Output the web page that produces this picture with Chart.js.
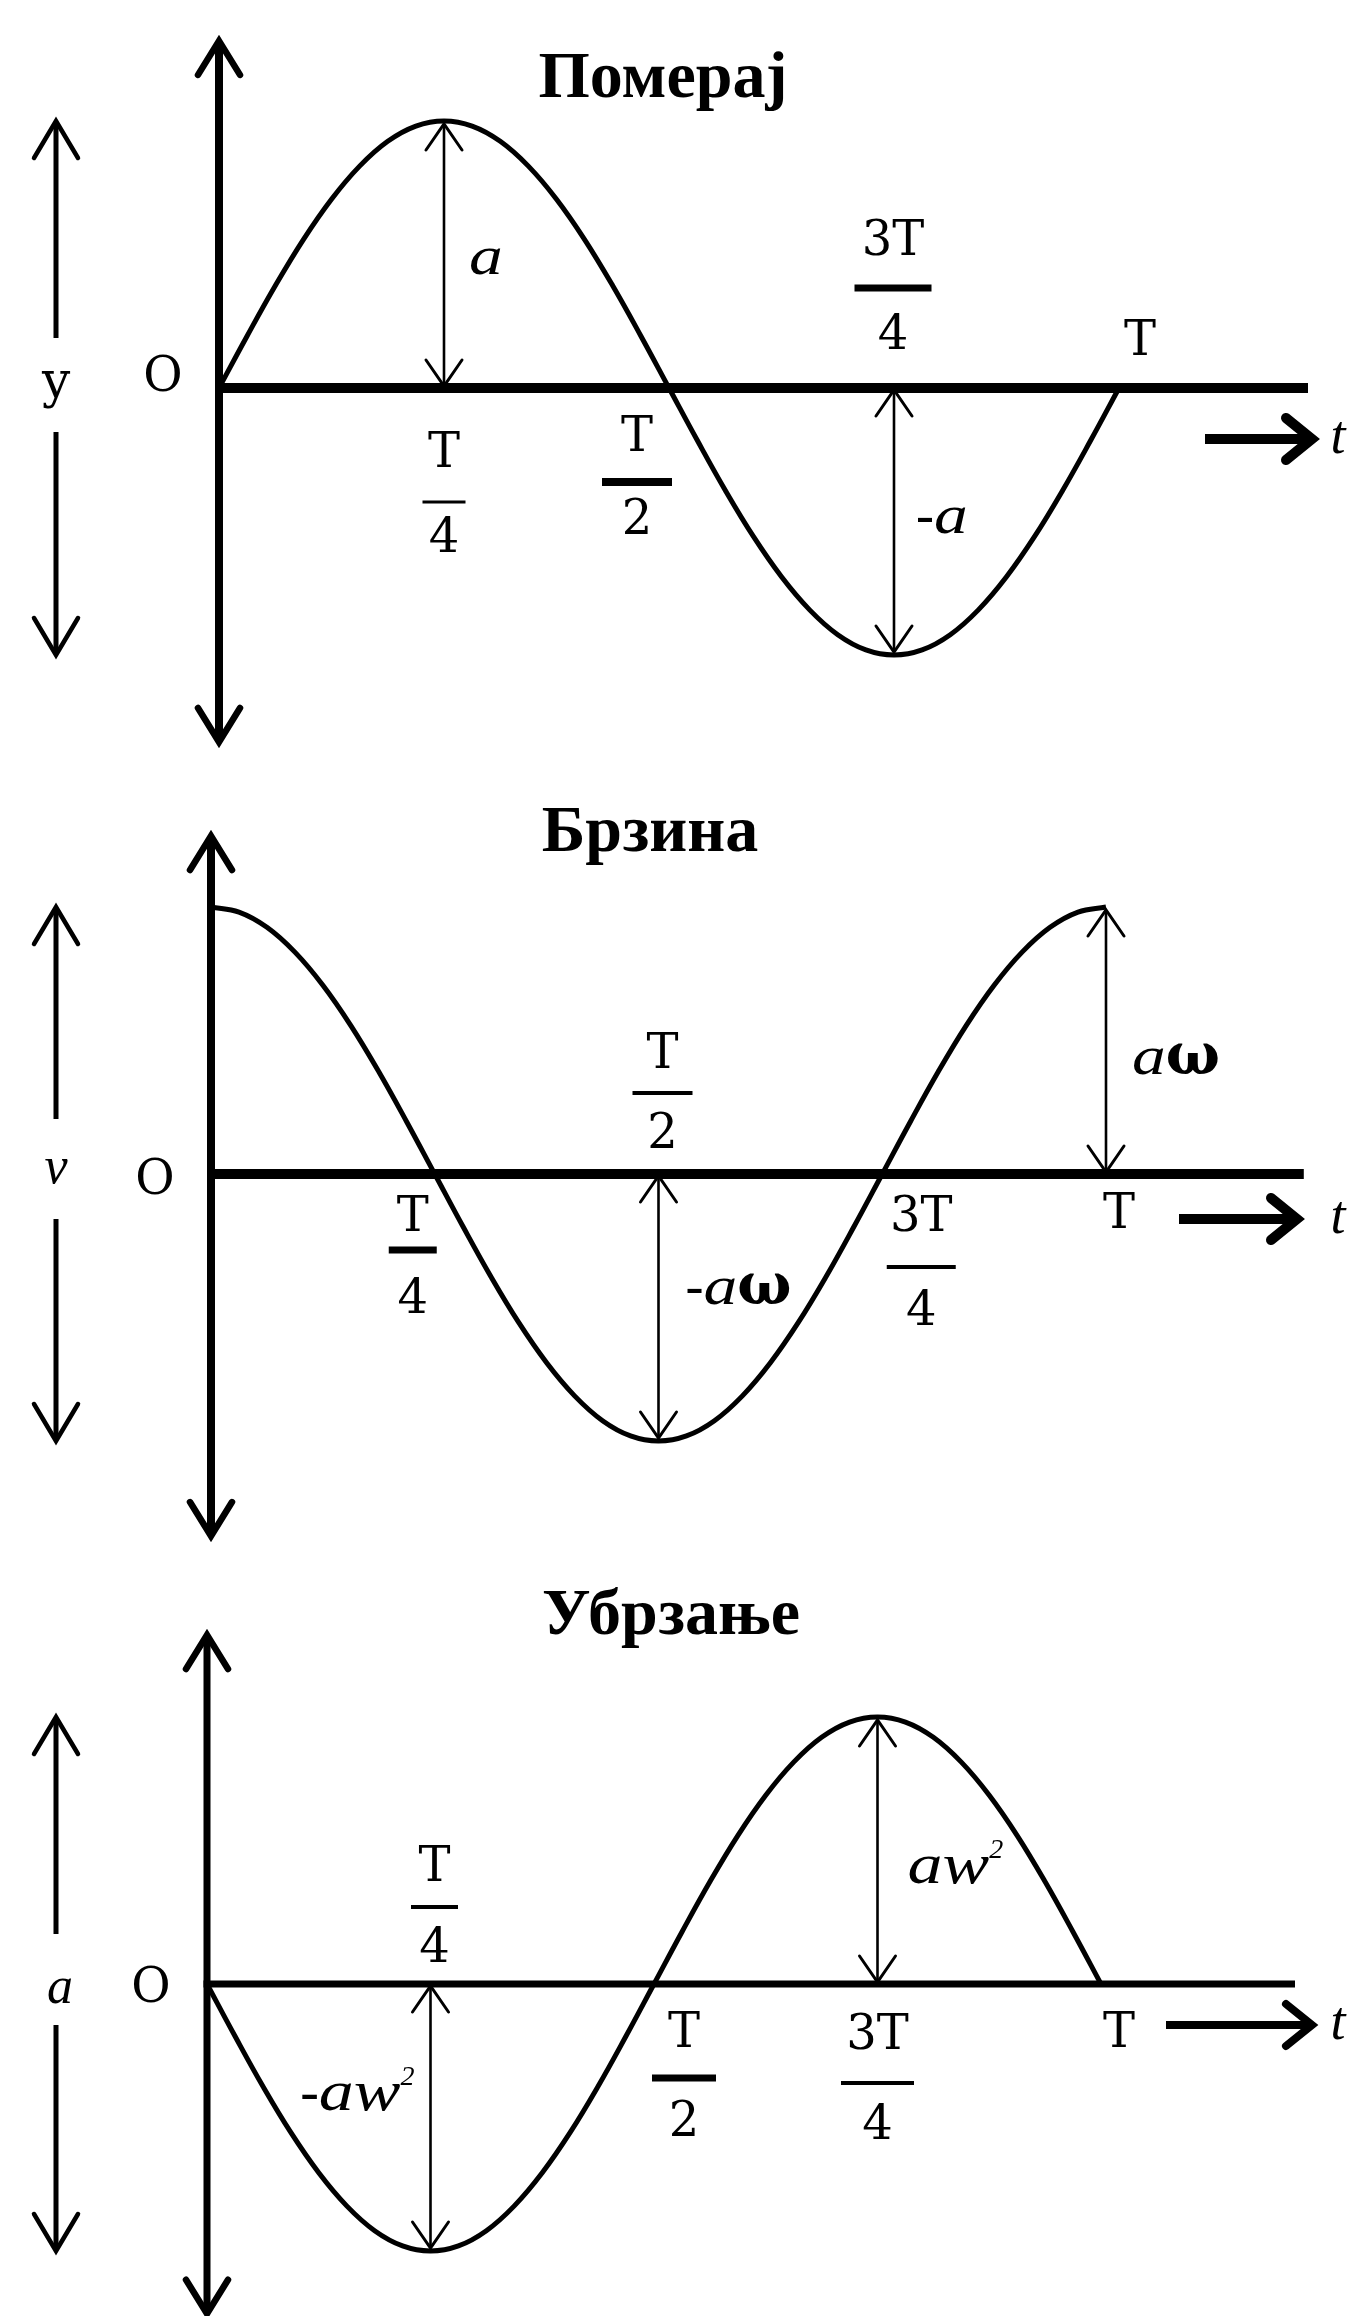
<!DOCTYPE html>
<html>
<head>
<meta charset="utf-8">
<script src="https://cdn.jsdelivr.net/npm/chart.js@4/dist/chart.umd.min.js"></script>
<style>
html,body{margin:0;padding:0;background:#fff;}
#wrap{position:relative;width:1349px;height:2316px;overflow:hidden;background:#fff;}
canvas{position:absolute;left:0;}
</style>
</head>
<body>
<div id="wrap">
<canvas id="c0" width="1349" height="780" style="top:0px"></canvas>
<canvas id="c1" width="1349" height="780" style="top:780px"></canvas>
<canvas id="c2" width="1349" height="756" style="top:1560px"></canvas>
</div>
<script>
// ---------------- DATA (time in units of T, values in units of amplitude) -------------
const timeFractions = [0, 0.03125, 0.0625, 0.09375, 0.125, 0.15625, 0.1875, 0.21875, 0.25, 0.28125, 0.3125, 0.34375, 0.375, 0.40625, 0.4375, 0.46875,
                       0.5, 0.53125, 0.5625, 0.59375, 0.625, 0.65625, 0.6875, 0.71875, 0.75, 0.78125, 0.8125, 0.84375, 0.875, 0.90625, 0.9375, 0.96875, 1];
const displacement  = [0, 0.195, 0.383, 0.556, 0.707, 0.831, 0.924, 0.981, 1, 0.981, 0.924, 0.831, 0.707, 0.556, 0.383, 0.195,
                       0, -0.195, -0.383, -0.556, -0.707, -0.831, -0.924, -0.981, -1, -0.981, -0.924, -0.831, -0.707, -0.556, -0.383, -0.195, 0];
const velocity      = [1, 0.981, 0.924, 0.831, 0.707, 0.556, 0.383, 0.195, 0, -0.195, -0.383, -0.556, -0.707, -0.831, -0.924, -0.981,
                       -1, -0.981, -0.924, -0.831, -0.707, -0.556, -0.383, -0.195, 0, 0.195, 0.383, 0.556, 0.707, 0.831, 0.924, 0.981, 1];
const acceleration  = [0, -0.195, -0.383, -0.556, -0.707, -0.831, -0.924, -0.981, -1, -0.981, -0.924, -0.831, -0.707, -0.556, -0.383, -0.195,
                       0, 0.195, 0.383, 0.556, 0.707, 0.831, 0.924, 0.981, 1, 0.981, 0.924, 0.831, 0.707, 0.556, 0.383, 0.195, 0];
const panelTitles = ['Померај', 'Брзина', 'Убрзање'];
const quantitySymbols = ['y', 'ν', 'a'];
const originLabel = 'O';
const timeLabel = 't';
const tickValues = [0.25, 0.5, 0.75, 1];
const tickNumerators = ['T', 'T', '3T', 'T'];
const tickDenominators = ['4', '2', '4', ''];
const amplitudeLabels = [['a', '-a'], ['aω', '-aω'], ['aw²', '-aw²']];
const peakTimes = [[0.25, 0.75], [1, 0.5], [0.75, 0.25]];   // times of the +max and -max
const peakValues = [1, -1];

// ---------------- LAYOUT / STYLE ----------------
const INK = '#000';
const LAYOUT = [
  { pad:{left:219,right:230,top:121,bottom:125}, title:{x:663,y:97},
    yAxis:{top:1.30,bottom:-1.326,lw:8}, xAxis:{right:1.21,lw:10},
    origin:{dx:-56,dy:-9}, symbol:{x:56,dy:-4}, leftArrow:{x:56,gapTop:-50,gapBottom:44},
    timeArrow:{x1:1205,x2:1312,dy:51,lw:10,textX:1338},
    ticks:[{dx:0,num:67,bar:114,den:152,barW:43,barLW:3},{dx:-32,num:51,bar:94,den:134,barW:70,barLW:8},
           {dx:-1,num:-145,bar:-100,den:-51,barW:77,barLW:7},{dx:21,num:-45}],
    amp:[{dx:25,dy:-126,align:'left'},{dx:22,dy:133,align:'left'}] },
  { pad:{left:211,right:243,top:127,bottom:119}, title:{x:650,y:71},
    yAxis:{top:1.266,bottom:-1.356,lw:8}, xAxis:{right:1.221,lw:10},
    origin:{dx:-56,dy:8}, symbol:{x:56,dy:-4}, leftArrow:{x:56,gapTop:-55,gapBottom:45},
    timeArrow:{x1:1179,x2:1297,dy:45,lw:10,textX:1338},
    ticks:[{dx:-22,num:45,bar:76,den:127,barW:48,barLW:7},{dx:4,num:-118,bar:-81,den:-38,barW:60,barLW:4},
           {dx:39,num:45,bar:93,den:139,barW:69,barLW:4},{dx:13,num:42}],
    amp:[{dx:26,dy:-112,align:'left'},{dx:27,dy:118,align:'left'}] },
  { pad:{left:207,right:248,top:157,bottom:65}, title:{x:671,y:74},
    yAxis:{top:1.307,bottom:-1.235,lw:7}, xAxis:{right:1.217,lw:7},
    origin:{dx:-56,dy:6}, symbol:{x:60,dy:6}, leftArrow:{x:56,gapTop:-50,gapBottom:41},
    timeArrow:{x1:1166,x2:1312,dy:41,lw:8,textX:1338},
    ticks:[{dx:4,num:-115,bar:-77,den:-34,barW:47,barLW:4},{dx:30,num:51,bar:94,den:140,barW:64,barLW:7},
           {dx:0,num:53,bar:99,den:143,barW:73,barLW:4},{dx:18,num:51}],
    amp:[{dx:30,dy:-114,align:'left'},{dx:-16,dy:113,align:'right'}] }
];
const SERIES = [displacement, velocity, acceleration];

function chevron(ctx, tx, ty, dx, dy, len, half, lw) {
  const px = -dy, py = dx;
  ctx.save();
  ctx.lineWidth = lw; ctx.lineCap = 'round'; ctx.lineJoin = 'miter'; ctx.strokeStyle = INK;
  ctx.beginPath();
  ctx.moveTo(tx - dx*len + px*half, ty - dy*len + py*half);
  ctx.lineTo(tx, ty);
  ctx.lineTo(tx - dx*len - px*half, ty - dy*len - py*half);
  ctx.stroke();
  ctx.restore();
}
function line(ctx, x1, y1, x2, y2, lw, cap) {
  ctx.save();
  ctx.lineWidth = lw; ctx.lineCap = cap || 'butt'; ctx.strokeStyle = INK;
  ctx.beginPath(); ctx.moveTo(x1, y1); ctx.lineTo(x2, y2); ctx.stroke();
  ctx.restore();
}
function drawMath(ctx, str, x, yc, align, size) {
  const segs = [];
  for (const ch of str) {
    if (ch === 'ω') segs.push({t:ch, font:'bold ' + Math.round(size*1.05) + 'px "DejaVu Serif"', dy:0, sx:1});
    else if (ch === '²') segs.push({t:'2', font:'italic ' + Math.round(size*0.5) + 'px "Liberation Serif"', dy:-size*0.45, sx:1});
    else if (ch === '-') segs.push({t:'-', font:size + 'px "Liberation Serif"', dy:0, sx:1});
    else segs.push({t:ch, font:'italic ' + size + 'px "Liberation Serif"', dy:0, sx:1.25});
  }
  let total = 0;
  segs.forEach(s => { ctx.font = s.font; s.w = ctx.measureText(s.t).width * s.sx; total += s.w; });
  let cx = align === 'right' ? x - total : x;
  const base = yc + size*0.23;
  ctx.save();
  ctx.fillStyle = INK; ctx.textAlign = 'left'; ctx.textBaseline = 'alphabetic';
  segs.forEach(s => {
    ctx.font = s.font;
    ctx.save(); ctx.translate(cx, base + s.dy); ctx.scale(s.sx, 1); ctx.fillText(s.t, 0, 0); ctx.restore();
    cx += s.w;
  });
  ctx.restore();
}

const decor = {
  id: 'decor',
  afterDatasetsDraw(chart) {
    const i = chart.options.plugins.decor.index;
    const L = LAYOUT[i];
    const ctx = chart.ctx;
    const xs = chart.scales.x, ys = chart.scales.y;
    const x0 = xs.getPixelForValue(0), y0 = ys.getPixelForValue(0);
    ctx.save();
    const yTop = ys.getPixelForValue(L.yAxis.top), yBot = ys.getPixelForValue(L.yAxis.bottom);
    line(ctx, x0, yTop + 2, x0, yBot - 2, L.yAxis.lw);
    chevron(ctx, x0, yTop, 0, -1, 34, 21, 6.5);
    chevron(ctx, x0, yBot, 0, 1, 34, 21, 6.5);
    const xEnd = xs.getPixelForValue(L.xAxis.right);
    line(ctx, x0 - L.yAxis.lw/2, y0, xEnd, y0, L.xAxis.lw);
    const la = L.leftArrow;
    const yp = ys.getPixelForValue(peakValues[0]), yn = ys.getPixelForValue(peakValues[1]);
    line(ctx, la.x, yp + 2, la.x, y0 + la.gapTop, 5);
    line(ctx, la.x, y0 + la.gapBottom, la.x, yn - 2, 5);
    chevron(ctx, la.x, yp, 0, -1, 37, 22, 4.5);
    chevron(ctx, la.x, yn, 0, 1, 37, 22, 4.5);
    ctx.fillStyle = INK;
    ctx.font = 'italic 52px "Liberation Serif"';
    ctx.textAlign = 'center'; ctx.textBaseline = 'alphabetic';
    if (i === 0) ctx.font = '50px "DejaVu Serif"';
    ctx.fillText(quantitySymbols[i], L.symbol.x, y0 + L.symbol.dy + 13);
    ctx.font = '48px "DejaVu Serif"'; ctx.textBaseline = 'middle';
    ctx.fillText(originLabel, x0 + L.origin.dx, y0 + L.origin.dy);
    ctx.font = 'bold 66px "Liberation Serif"'; ctx.textBaseline = 'alphabetic';
    ctx.fillText(panelTitles[i], L.title.x, L.title.y);
    tickValues.forEach((v, k) => {
      const t = L.ticks[k];
      const cx = xs.getPixelForValue(v) + t.dx;
      ctx.font = '48px "DejaVu Serif"'; ctx.textAlign = 'center'; ctx.textBaseline = 'middle';
      ctx.fillText(tickNumerators[k], cx, y0 + t.num);
      if (tickDenominators[k]) {
        line(ctx, cx - t.barW/2, y0 + t.bar, cx + t.barW/2, y0 + t.bar, t.barLW);
        ctx.fillText(tickDenominators[k], cx, y0 + t.den);
      }
    });
    [0, 1].forEach(k => {
      const ax = xs.getPixelForValue(peakTimes[i][k]);
      const ay = ys.getPixelForValue(peakValues[k]);
      const dir = ay < y0 ? -1 : 1;
      const tip1 = ay - dir*3, tip2 = y0 + dir*2;
      line(ctx, ax, tip1, ax, tip2, 2.6);
      chevron(ctx, ax, tip1, 0, dir, 26, 18, 3);
      chevron(ctx, ax, tip2, 0, -dir, 26, 18, 3);
      const a = L.amp[k];
      drawMath(ctx, amplitudeLabels[i][k], ax + a.dx, y0 + a.dy, a.align, i === 2 ? 56 : 54);
    });
    const ta = L.timeArrow, ty = y0 + ta.dy;
    line(ctx, ta.x1, ty, ta.x2 - 4, ty, ta.lw);
    chevron(ctx, ta.x2, ty, 1, 0, 26, 21, ta.lw);
    ctx.font = 'italic 54px "Liberation Serif"'; ctx.textAlign = 'center'; ctx.textBaseline = 'alphabetic';
    ctx.fillText(timeLabel, ta.textX, ty + 14);
    ctx.restore();
  }
};

SERIES.forEach((series, i) => {
  const L = LAYOUT[i];
  new Chart(document.getElementById('c' + i).getContext('2d'), {
    type: 'line',
    data: {
      datasets: [{
        data: timeFractions.map((t, k) => ({x: t, y: series[k]})),
        borderColor: INK, borderWidth: 5, pointRadius: 0,
        tension: 0.4, fill: false, clip: false
      }]
    },
    options: {
      responsive: false, animation: false, events: [],
      layout: {padding: L.pad},
      plugins: {legend: {display: false}, tooltip: {enabled: false}, title: {display: false}, decor: {index: i}},
      scales: {
        x: {type: 'linear', min: 0, max: 1, display: false},
        y: {type: 'linear', min: -1, max: 1, display: false}
      }
    },
    plugins: [decor]
  });
});
</script>
</body>
</html>
